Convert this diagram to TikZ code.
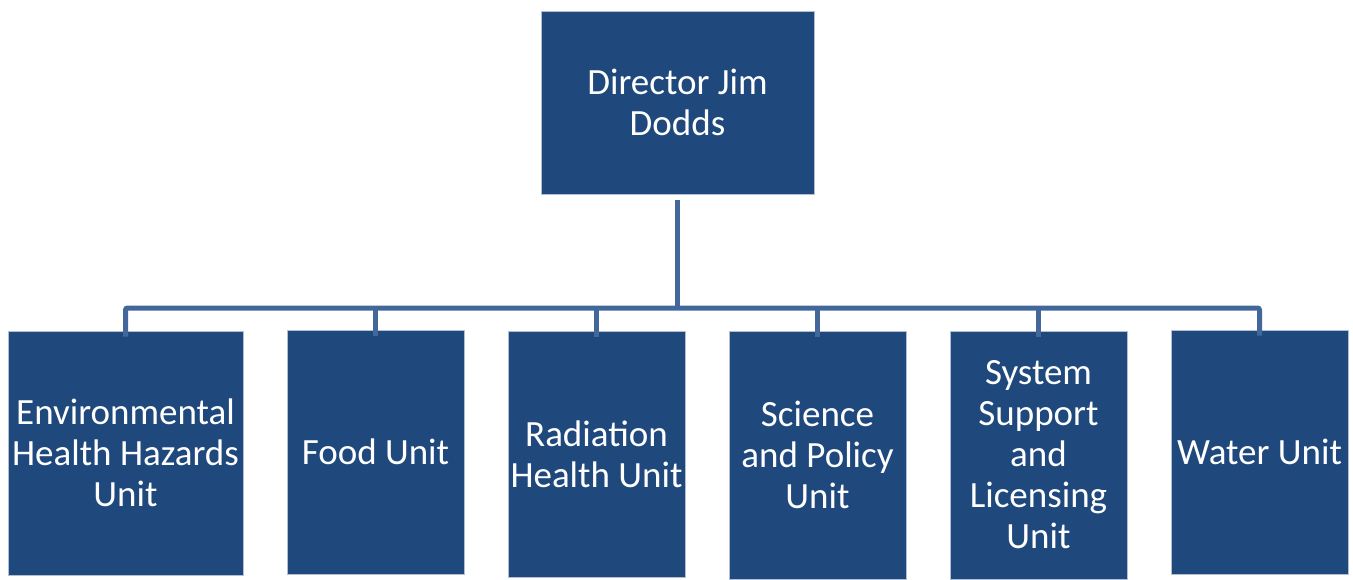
\documentclass[tikz,border=0pt]{standalone}
\usepackage{fontspec}
\setmainfont{Carlito}
\definecolor{boxblue}{RGB}{31,73,125}
\definecolor{lineblue}{RGB}{66,104,155}
\tikzset{
  unitbox/.style={fill=boxblue, draw=boxblue!35, line width=0.8pt, text=white,
    align=center, inner sep=0pt, minimum height=244pt, minimum width=177pt,
    font=\fontsize{37}{41}\selectfont},
  conn/.style={draw=lineblue, line width=5pt, rounded corners=2pt}
}
\begin{document}
\begin{tikzpicture}[x=1pt,y=-1pt]
    \useasboundingbox (0,0) rectangle (1353,579);

    \node[unitbox, minimum width=273pt, minimum height=183pt] (director) at (677.5,102.5) {Director Jim\\Dodds};

    \node[unitbox, minimum width=235pt] (envhealth) at (125.5,453) {Environmental\\Health Hazards\\Unit};
    \node[unitbox] (food) at (375.5,452) {Food Unit};
    \node[unitbox, minimum height=246pt] (radiation) at (596.5,454) {Radiation\\Health Unit};
    \node[unitbox, minimum height=248pt] (science) at (817.5,455) {Science\\and Policy\\Unit};
    \node[unitbox, minimum height=248pt] (system) at (1038.5,455) {System\\Support\\and\\Licensing\\Unit};
    \node[unitbox] (water) at (1259.5,452) {Water Unit};

    \coordinate (bus) at (677.5,308);

    \draw[conn] ([yshift=-6pt]director.south) -- (bus);
    \draw[conn] ([yshift=-6pt]envhealth.north) |- (bus) -| ([yshift=-6pt]water.north);
    \foreach \u in {food,radiation,science,system}{
    \draw[conn] (bus -| \u.north) -- ([yshift=-6pt]\u.north);
    }
\end{tikzpicture}
\end{document}
